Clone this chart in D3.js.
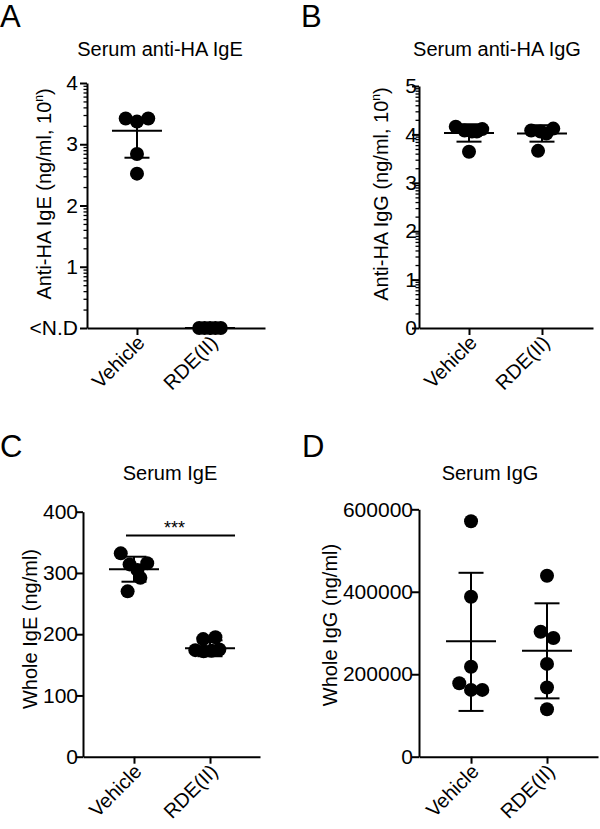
<!DOCTYPE html>
<html><head><meta charset="utf-8">
<script src="https://cdn.jsdelivr.net/npm/d3@7"></script>
<style>
body{margin:0;background:#fff;}
svg{display:block;font-family:Arial,"Liberation Sans",sans-serif;}
</style></head>
<body>
<svg id="chart" width="600" height="829"></svg>
<script>
// ---------- data ----------
const categories = ["Vehicle", "RDE(II)"];

// Panel A: Serum anti-HA IgE (log10 ng/ml)
const aVehicle = [3.42, 3.37, 3.42, 2.84, 2.52];
const aVehicleJitter = [-1.15, 0, 1.15, 0, 0];
const aRde = [0, 0, 0, 0, 0];
const aRdeJitter = [-1.1, -0.55, 0, 0.55, 1.1];
const aMean = [3.22, 0];
const aUpper = [3.43, 0];
const aLower = [2.78, 0];
const aTicks = [0, 1, 2, 3, 4];
const aTickLabels = ["<N.D", "1", "2", "3", "4"];

// Panel B: Serum anti-HA IgG (log10 ng/ml)
const bVehicle = [4.16, 4.08, 4.06, 4.06, 4.11, 3.64];
const bVehicleJitter = [-1.35, -0.45, 0.3, 0.8, 1.35, 0];
const bRde = [4.08, 4.06, 4.02, 4.12, 3.66];
const bRdeJitter = [-1.1, -0.15, 0.45, 1.15, -0.4];
const bMean = [4.03, 4.02];
const bUpper = [4.21, 4.19];
const bLower = [3.85, 3.85];
const bTicks = [0, 1, 2, 3, 4, 5];
const bTickLabels = ["0", "1", "2", "3", "4", "5"];

// Panel C: Serum IgE (ng/ml)
const cVehicle = [332, 314, 305, 316, 292, 270];
const cVehicleJitter = [-1.35, -0.45, 0.35, 1.35, 0.65, -0.65];
const cRde = [192, 195, 174, 172, 173, 175];
const cRdeJitter = [-0.7, 0.55, -1.5, -0.65, 0.15, 0.95];
const cMean = [306, 177];
const cUpper = [326.5, 190];
const cLower = [285.7, 164];
const cTicks = [0, 100, 200, 300, 400];
const cSignif = {from: "Vehicle", to: "RDE(II)", value: 361, label: "***"};

// Panel D: Serum IgG (ng/ml)
const dVehicle = [571000, 388000, 218000, 178000, 162000, 162000];
const dVehicleJitter = [0, 0, 0, -1.2, 0, 1.15];
const dRde = [439000, 303000, 288000, 225000, 168000, 115000];
const dRdeJitter = [0, -0.65, 0.65, 0, 0, 0];
const dMean = [280000, 257000];
const dUpper = [446000, 372000];
const dLower = [111000, 141500];
const dTicks = [0, 200000, 400000, 600000];

// ---------- drawing ----------
const svg = d3.select("#chart");
const R = 7;               // dot radius
const jitterScale = d3.scaleLinear().domain([0, 1]).range([0, 2 * R * 0.7]);
const FS = 20;

function panel(p) {
  const g = svg.append("g");
  const x = d3.scalePoint().domain(categories).range([p.left, p.right]).padding(p.pad).align(p.align);
  const y = d3.scaleLinear().domain(p.domain).range([p.bottom, p.top]);

  // panel letter
  g.append("text").attr("x", p.letterX).attr("y", p.letterY)
    .attr("font-size", 31).attr("fill", "#000").text(p.letter);
  // title
  g.append("text").attr("x", p.titleX).attr("y", p.titleY).attr("text-anchor", "middle")
    .attr("font-size", 20).attr("fill", "#000").text(p.title);
  // y label
  const yl = g.append("text")
    .attr("transform", `translate(${p.ylabX},${p.ylabY}) rotate(-90)`)
    .attr("text-anchor", "middle").attr("font-size", FS).attr("fill", "#000");
  yl.append("tspan").text(p.ylabel);
  if (p.ylabelSup) {
    yl.append("tspan").attr("font-size", 12).attr("dy", -8).text(p.ylabelSup);
    yl.append("tspan").attr("dy", 8).text(")");
  }

  // minor log ticks
  if (p.logMinor) {
    const minor = [];
    for (let i = p.domain[0]; i < p.domain[1]; i++)
      for (let k = 2; k <= 9; k++) minor.push(i + Math.log10(k));
    const mg = g.append("g").attr("transform", `translate(${p.left},0)`)
      .call(d3.axisLeft(y).tickValues(minor).tickSize(3.5).tickSizeOuter(0).tickFormat(""));
    mg.select(".domain").remove();
    mg.selectAll("line").attr("stroke", "#000").attr("stroke-width", 1.3);
  }
  // y axis
  const ya = g.append("g").attr("transform", `translate(${p.left},0)`)
    .call(d3.axisLeft(y).tickValues(p.ticks).tickSize(7).tickSizeOuter(0)
      .tickPadding(p.tickPad)
      .tickFormat((d, i) => p.tickLabels ? p.tickLabels[i] : d3.format("d")(d)));
  ya.select(".domain").attr("stroke", "#000").attr("stroke-width", 2);
  ya.selectAll(".tick line").attr("stroke", "#000").attr("stroke-width", 2);
  ya.selectAll(".tick text").attr("font-size", 21).attr("fill", "#000")
    .attr("font-family", "Arial, 'Liberation Sans', sans-serif");

  // x axis
  const xa = g.append("g").attr("transform", `translate(0,${p.bottom})`)
    .call(d3.axisBottom(x).tickSize(7).tickSizeOuter(0).tickFormat(""));
  xa.select(".domain").attr("stroke", "#000").attr("stroke-width", 2);
  xa.selectAll(".tick line").attr("stroke", "#000").attr("stroke-width", 2);
  categories.forEach(c => {
    g.append("text")
      .attr("transform", `translate(${x(c) + 9},${p.bottom + 16}) rotate(-45)`)
      .attr("text-anchor", "end").attr("font-size", FS).attr("fill", "#000").text(c);
  });

  // dots
  p.groups.forEach((grp, gi) => {
    const cx = x(categories[gi]);
    g.append("g").selectAll("circle").data(grp.values).join("circle")
      .attr("cx", (d, i) => cx + jitterScale(grp.jitter[i]))
      .attr("cy", d => y(d)).attr("r", R).attr("fill", "#000");
  });

  // error bars (mean ± error)
  categories.forEach((c, i) => {
    const cx = x(c);
    const ln = (x1, y1, x2, y2) => g.append("line")
      .attr("x1", x1).attr("y1", y1).attr("x2", x2).attr("y2", y2)
      .attr("stroke", "#000").attr("stroke-width", 2);
    ln(cx, y(p.lower[i]), cx, y(p.upper[i]));
    ln(cx - 25, y(p.mean[i]), cx + 25, y(p.mean[i]));
    ln(cx - 12.5, y(p.upper[i]), cx + 12.5, y(p.upper[i]));
    ln(cx - 12.5, y(p.lower[i]), cx + 12.5, y(p.lower[i]));
  });

  // significance
  if (p.signif) {
    const s = p.signif;
    const x1 = x(s.from) - 8, x2 = x(s.to) + 25;
    g.append("line").attr("x1", x1).attr("x2", x2)
      .attr("y1", y(s.value)).attr("y2", y(s.value))
      .attr("stroke", "#000").attr("stroke-width", 2);
    g.append("text").attr("x", (x1 + x2) / 2 - 6).attr("y", y(s.value) - 2)
      .attr("text-anchor", "middle").attr("font-size", 18).attr("fill", "#000").text(s.label);
  }
}

panel({
  letter: "A", letterX: 0, letterY: 27,
  title: "Serum anti-HA IgE", titleX: 160, titleY: 56,
  ylabel: "Anti-HA IgE (ng/ml, 10", ylabelSup: "n", ylabX: 51, ylabY: 194,
  left: 87, right: 265, pad: 0.719, align: 0.476,
  top: 83, bottom: 328, domain: [0, 4], ticks: aTicks, tickLabels: aTickLabels, tickPad: 2,
  logMinor: true,
  groups: [{values: aVehicle, jitter: aVehicleJitter}, {values: aRde, jitter: aRdeJitter}],
  mean: aMean, upper: aUpper, lower: aLower
});

panel({
  letter: "B", letterX: 301, letterY: 27,
  title: "Serum anti-HA IgG", titleX: 497, titleY: 56,
  ylabel: "Anti-HA IgG (ng/ml, 10", ylabelSup: "n", ylabX: 388, ylabY: 194,
  left: 419, right: 593, pad: 0.692, align: 0.495,
  top: 86, bottom: 328, domain: [0, 5], ticks: bTicks, tickLabels: bTickLabels, tickPad: -5,
  logMinor: true,
  groups: [{values: bVehicle, jitter: bVehicleJitter}, {values: bRde, jitter: bRdeJitter}],
  mean: bMean, upper: bUpper, lower: bLower
});

panel({
  letter: "C", letterX: 0, letterY: 457,
  title: "Serum IgE", titleX: 170, titleY: 480,
  ylabel: "Whole IgE (ng/ml)", ylabX: 37, ylabY: 629,
  left: 83, right: 260, pad: 0.664, align: 0.505,
  top: 511.7, bottom: 756.7, domain: [0, 400], ticks: cTicks, tickPad: -2,
  groups: [{values: cVehicle, jitter: cVehicleJitter}, {values: cRde, jitter: cRdeJitter}],
  mean: cMean, upper: cUpper, lower: cLower, signif: cSignif
});

panel({
  letter: "D", letterX: 302, letterY: 457,
  title: "Serum IgG", titleX: 490, titleY: 480,
  ylabel: "Whole IgG (ng/ml)", ylabX: 337, ylabY: 625,
  left: 419, right: 598, pad: 0.678, align: 0.505,
  top: 509.3, bottom: 756.7, domain: [0, 600000], ticks: dTicks, tickPad: -1,
  groups: [{values: dVehicle, jitter: dVehicleJitter}, {values: dRde, jitter: dRdeJitter}],
  mean: dMean, upper: dUpper, lower: dLower
});
</script>
</body></html>
